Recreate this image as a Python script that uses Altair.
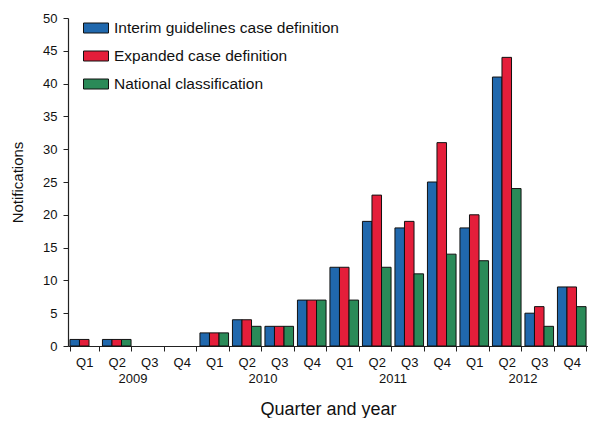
import altair as alt
import pandas as pd

years = ["2009", "2010", "2011", "2012"]
quarters = ["Q1", "Q2", "Q3", "Q4"]
series = ["Interim guidelines case definition", "Expanded case definition", "National classification"]
interim = [1, 1, 0, 0, 2, 4, 3, 7, 12, 19, 18, 25, 18, 41, 5, 9]
expanded = [1, 1, 0, 0, 2, 4, 3, 7, 12, 23, 19, 31, 20, 44, 6, 9]
national = [0, 1, 0, 0, 2, 3, 3, 7, 7, 12, 11, 14, 13, 24, 3, 6]
colors = ["#2068ad", "#e41e3a", "#2a8a58"]

cats = [f"{y} {q}" for y in years for q in quarters]
rows = []
for i, c in enumerate(cats):
    for s, vals in zip(series, [interim, expanded, national]):
        rows.append({"cat": c, "series": s, "value": vals[i]})
df = pd.DataFrame(rows)
ydf = pd.DataFrame({"cat": [f"{y} Q2" for y in years], "year": years})

W, H = 520, 328
font = "Liberation Sans"

xscale = alt.Scale(domain=cats, paddingInner=0.12, paddingOuter=0.06)

bars = alt.Chart(df).transform_filter("datum.value > 0").mark_bar(
    stroke="#111111", strokeWidth=1
).encode(
    x=alt.X("cat:N", sort=cats, scale=xscale,
            axis=alt.Axis(title="Quarter and year", labelExpr="split(datum.label, ' ')[1]",
                          labelAngle=0, tickBand="extent", tickSize=5, labelPadding=5,
                          labelFontSize=13, titleFontSize=18, titleFontWeight="normal",
                          titleY=68, titleBaseline="alphabetic")),
    xOffset=alt.XOffset("series:N", sort=series,
                        scale=alt.Scale(domain=series, paddingInner=0, paddingOuter=0)),
    y=alt.Y("value:Q", scale=alt.Scale(domain=[0, 50], nice=False),
            axis=alt.Axis(title="Notifications", values=list(range(0, 51, 5)), tickSize=5,
                          labelPadding=6, labelFontSize=13, titleFontSize=15,
                          titleFontWeight="normal", grid=False, titleX=-51,
                          titleBaseline="middle")),
    color=alt.Color("series:N", sort=series, scale=alt.Scale(domain=series, range=colors),
                    legend=alt.Legend(title=None, orient="none", legendX=15, legendY=-3,
                                      symbolType="M-1,-0.4H1V0.4H-1Z", symbolSize=625,
                                      symbolStrokeColor="#111111", symbolStrokeWidth=1,
                                      symbolOpacity=1, labelFontSize=15.5, labelOffset=5,
                                      rowPadding=6, labelLimit=400, labelColor="#111111")),
)

yearlab = alt.Chart(ydf).mark_text(fontSize=13, font=font, color="#111111", dx=W / 32,
                                   baseline="middle").encode(
    x=alt.X("cat:N", sort=cats, scale=xscale),
    y=alt.value(H + 33),
    text="year:N",
)

chart = alt.layer(bars, yearlab).properties(
    width=W, height=H,
    padding={"left": 60, "top": 10, "right": 0, "bottom": 72},
    autosize=alt.AutoSizeParams(type="none"),
).configure_view(stroke=None).configure_axis(
    labelFont=font, titleFont=font, domainColor="#222222", tickColor="#222222",
    labelColor="#111111", titleColor="#111111", domainWidth=1.2,
).configure_legend(labelFont=font)

chart.save("out.html", embed_options={"renderer": "svg", "actions": False})
